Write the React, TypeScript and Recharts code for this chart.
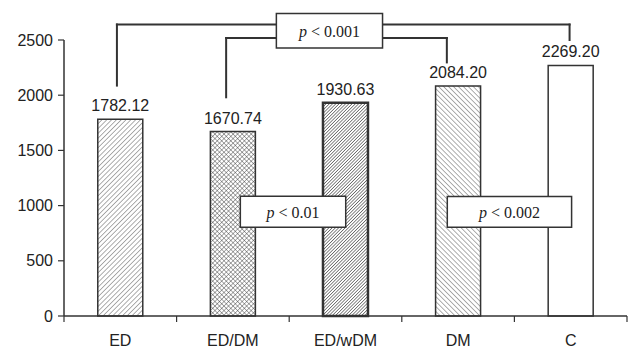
import { BarChart, Bar, Cell, XAxis, YAxis, LabelList, ReferenceLine, ReferenceArea } from 'recharts';

// values
const categories = ['ED', 'ED/DM', 'ED/wDM', 'DM', 'C'];
const values = [1782.12, 1670.74, 1930.63, 2084.2, 2269.2];
const yTicks = [0, 500, 1000, 1500, 2000, 2500];
const boundaryTicks = [0, 1, 2, 3, 4, 5];
const TICK_DEPTH = 54; // x tick length below the axis, in data units (~6px)

// significance brackets, x in category units (0..5), y in data units
const brackets = [
  { x1: 0.47, x2: 4.49, top: 2640, left: 2087, right: 2500 },
  { x1: 1.44, x2: 3.4, top: 2518, left: 1981, right: 2297 },
];

const pBoxes = [
  { text: '0.001', x1: 1.886, x2: 2.829, y1: 2428, y2: 2741 },
  { text: '0.01', x1: 1.566, x2: 2.502, y1: 805, y2: 1085 },
  { text: '0.002', x1: 3.404, x2: 4.508, y1: 805, y2: 1083 },
];

const FILLS = ['url(#hatchFwd)', 'url(#hatchCross)', 'url(#hatchDense)', 'url(#hatchBack)', '#ffffff'];
const STROKE_W = [1.5, 1.5, 2.5, 1.5, 1.5];

const INK = '#333';
const SANS = '"Liberation Sans", Arial, sans-serif';
const SERIF = '"Liberation Serif", "Times New Roman", serif';

// pos = centre of each category on the 0..5 annotation axis
const data = categories.map((name, i) => ({ name, pos: i + 0.5, value: values[i] }));

function PLabel({ viewBox, value }: { viewBox?: any; value?: string }) {
  if (!viewBox) return null;
  const cx = viewBox.x + viewBox.width / 2;
  const cy = viewBox.y + viewBox.height / 2;
  return (
    <text x={cx} y={cy} textAnchor="middle" dominantBaseline="central" fontFamily={SERIF} fontSize={16} fill="#222">
      <tspan fontStyle="italic">p</tspan>
      <tspan> &lt; {value}</tspan>
    </text>
  );
}

export default function App() {
  return (
    <div style={{ position: 'absolute', left: 0, top: 0 }}>
      <BarChart
        width={630}
        height={349}
        data={data}
        margin={{ top: 40, right: 3, bottom: 0, left: 0 }}
        barCategoryGap="30%"
      >
        <defs>
          <pattern id="hatchFwd" patternUnits="userSpaceOnUse" width={3.4} height={3.4} patternTransform="rotate(45)">
            <rect width={3.4} height={3.4} fill="#fff" />
            <line x1={0} y1={0} x2={0} y2={3.4} stroke="#333" strokeWidth={0.8} />
          </pattern>
          <pattern id="hatchBack" patternUnits="userSpaceOnUse" width={3.5} height={3.5} patternTransform="rotate(-45)">
            <rect width={3.5} height={3.5} fill="#fff" />
            <line x1={0} y1={0} x2={0} y2={3.5} stroke="#333" strokeWidth={0.8} />
          </pattern>
          <pattern id="hatchDense" patternUnits="userSpaceOnUse" width={2.3} height={2.3} patternTransform="rotate(45)">
            <rect width={2.3} height={2.3} fill="#fff" />
            <line x1={0} y1={0} x2={0} y2={2.3} stroke="#2a2a2a" strokeWidth={1.1} />
          </pattern>
          <pattern id="hatchCross" patternUnits="userSpaceOnUse" width={3.2} height={3.2} patternTransform="rotate(45)">
            <rect width={3.2} height={3.2} fill="#fff" />
            <line x1={0} y1={0} x2={0} y2={3.2} stroke="#333" strokeWidth={0.8} />
            <line x1={0} y1={0} x2={3.2} y2={0} stroke="#333" strokeWidth={0.8} />
          </pattern>
        </defs>

        {/* hidden numeric axis: scale for annotations placed between categories */}
        <XAxis xAxisId="num" dataKey="pos" type="number" domain={[0, 5]} allowDataOverflow hide />
        <XAxis
          xAxisId="cat"
          dataKey="name"
          height={33}
          axisLine={{ stroke: INK, strokeWidth: 1.5 }}
          tickLine={false}
          tickSize={6}
          tickMargin={13}
          tick={{ fontSize: 16, fill: '#222', fontFamily: SANS }}
        />
        <YAxis
          domain={[0, 2500]}
          ticks={yTicks}
          width={64}
          tickSize={6}
          tickMargin={5}
          axisLine={{ stroke: INK, strokeWidth: 1.5 }}
          tickLine={{ stroke: INK, strokeWidth: 1.2 }}
          tick={{ fontSize: 16, fill: '#222', fontFamily: SANS }}
        />

        <Bar dataKey="value" xAxisId="cat" isAnimationActive={false}>
          {data.map((d, i) => (
            <Cell key={d.name} fill={FILLS[i]} stroke={INK} strokeWidth={STROKE_W[i]} />
          ))}
          <LabelList
            dataKey="value"
            position="top"
            offset={8}
            formatter={(v: any) => Number(v).toFixed(2)}
            style={{ fontSize: 16, fill: '#222', fontFamily: SANS }}
          />
        </Bar>

        {/* x ticks sit on category boundaries */}
        {boundaryTicks.map((t) => (
          <ReferenceLine
            key={`tick${t}`}
            xAxisId="num"
            ifOverflow="visible"
            segment={[{ x: t, y: 0 }, { x: t, y: -TICK_DEPTH }]}
            stroke={INK}
            strokeWidth={1.2}
          />
        ))}

        {brackets.flatMap((b, i) => [
          <ReferenceLine
            key={`bl${i}`}
            xAxisId="num"
            ifOverflow="visible"
            zIndex={500}
            segment={[{ x: b.x1, y: b.left }, { x: b.x1, y: b.top }]}
            stroke={INK}
            strokeWidth={2}
            strokeLinecap="square"
          />,
          <ReferenceLine
            key={`bt${i}`}
            xAxisId="num"
            ifOverflow="visible"
            zIndex={500}
            segment={[{ x: b.x1, y: b.top }, { x: b.x2, y: b.top }]}
            stroke={INK}
            strokeWidth={2}
            strokeLinecap="square"
          />,
          <ReferenceLine
            key={`br${i}`}
            xAxisId="num"
            ifOverflow="visible"
            zIndex={500}
            segment={[{ x: b.x2, y: b.top }, { x: b.x2, y: b.right }]}
            stroke={INK}
            strokeWidth={2}
            strokeLinecap="square"
          />,
        ])}

        {pBoxes.map((p) => (
          <ReferenceArea
            key={p.text}
            xAxisId="num"
            x1={p.x1}
            x2={p.x2}
            y1={p.y1}
            y2={p.y2}
            ifOverflow="visible"
            zIndex={600}
            fill="#fff"
            fillOpacity={1}
            stroke={INK}
            strokeWidth={1.5}
            label={<PLabel value={p.text} />}
          />
        ))}
      </BarChart>
    </div>
  );
}
